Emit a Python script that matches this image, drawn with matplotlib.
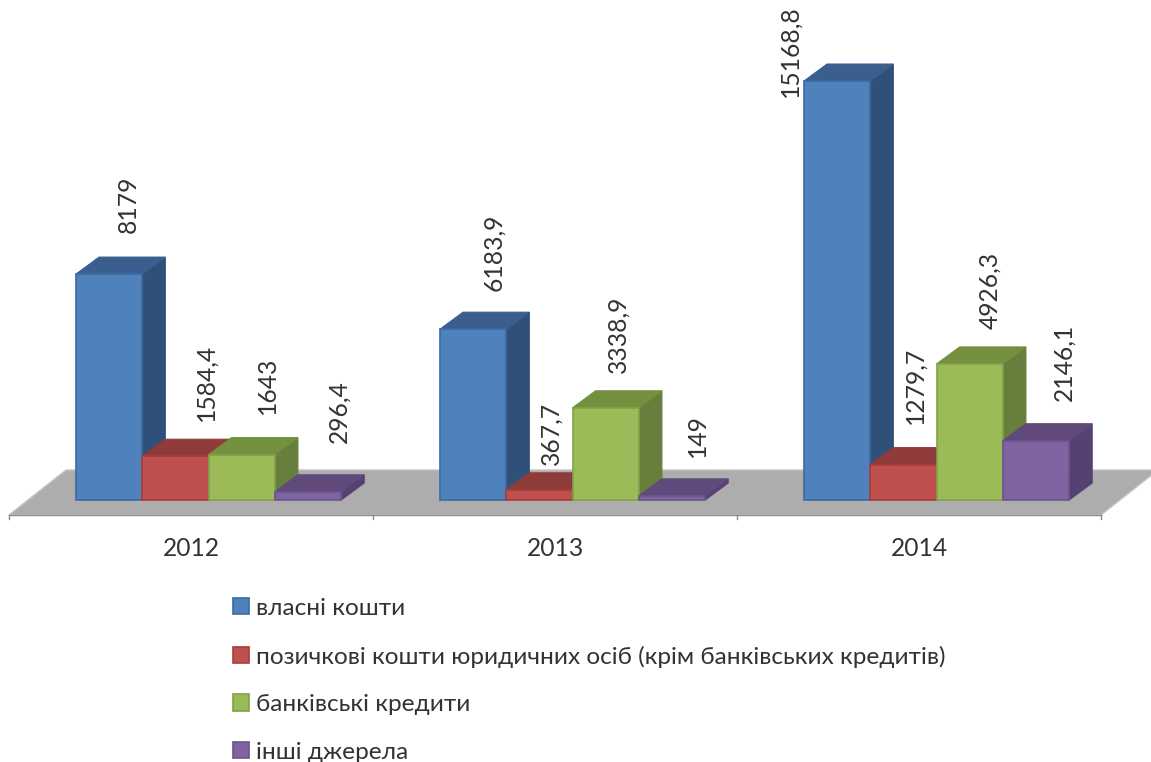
import matplotlib
matplotlib.use('Agg')
import matplotlib.pyplot as plt
from matplotlib.patches import Patch, Polygon


# Data
years = ['2012', '2013', '2014']
own_funds = [8179, 6183.9, 15168.8]
loans = [1584.4, 367.7, 1279.7]
bank_credits = [1643, 3338.9, 4926.3]
other = [296.4, 149, 2146.1]
series_names = ['власні кошти',
                'позичкові кошти юридичних осіб (крім банківських кредитів)',
                'банківські кредити',
                'інші джерела']

# Style
fronts = ['#4f81bd', '#c0504d', '#9bbb59', '#8064a2']
tops = ['#3a5f8e', '#8f3b39', '#73903f', '#5f4a7b']
sides = ['#2f5079', '#8a3836', '#667f3c', '#564272']
edges = ['#3d6a9f', '#a33f3c', '#84a04a', '#6c5489']
text_color = '#333333'

# Layout, in pixels of the 1151x762 picture
W, H = 1151, 762
SCALE = 0.02762     # px per value unit
BASE = 500
TICK0 = 9
STEP = 364
BAR_W = 66.3
GROUP_OFF = 67
DX, DY = 23, 17

# label centre x offset from bar left, label gap above bar front top (px)
label_dx = [[52, 64, 59, 64], [54, 45, 45, 59], [-14, 45, 53, 61]]
label_gap = [[41, 35, 41, 49], [38, 25, 35, 39], [-16, 41, 35, 40]]

plt.rcParams['font.family'] = ['Lato', 'Open Sans', 'DejaVu Sans']

fig = plt.figure(figsize=(W / 100, H / 100), dpi=100)
ax = fig.add_axes([0, 0, 1, 1])
ax.set_xlim(-TICK0 / STEP, (W - TICK0) / STEP)
ax.set_ylim(-(H - BASE) / SCALE, BASE / SCALE)
ax.axis('off')


def ux(px):
    return px / STEP


def uy(px):
    return px / SCALE


# Floor
floor = [(ux(0), uy(-15)), (ux(1092), uy(-15)), (ux(1149), uy(30)), (ux(57), uy(30))]
ax.add_patch(Polygon(floor, closed=True, fc='#adadad', ec='#c4c4c4', lw=1, zorder=1))

# Category axis
ax.plot([0, 3], [uy(-15), uy(-15)], color='#8c8c8c', lw=1, zorder=2)
for i in range(4):
    ax.plot([i, i], [uy(-15), uy(-19)], color='#8c8c8c', lw=1, zorder=2)
for i, year in enumerate(years):
    ax.text(i + 0.5, uy(-48), year, ha='center', va='center',
            fontsize=17.7, color=text_color)

# Bars
series = [own_funds, loans, bank_credits, other]
z = 3
for i in range(len(years)):
    for s, values in enumerate(series):
        v = values[i]
        x0 = i + ux(GROUP_OFF) + s * ux(BAR_W)
        x1 = x0 + ux(BAR_W)
        dx, dy = ux(DX), uy(DY)
        ax.add_patch(Polygon([(x1, 0), (x1 + dx, dy), (x1 + dx, v + dy), (x1, v)],
                             closed=True, fc=sides[s], ec=sides[s], lw=0.8, zorder=z))
        ax.add_patch(Polygon([(x0, v), (x1, v), (x1 + dx, v + dy), (x0 + dx, v + dy)],
                             closed=True, fc=tops[s], ec=tops[s], lw=0.8, zorder=z))
        ax.bar(x0, v, width=ux(BAR_W), bottom=0, align='edge', color=fronts[s],
               edgecolor=edges[s], linewidth=1.2, zorder=z)
        ax.text(x0 + ux(label_dx[i][s]), v + uy(label_gap[i][s]),
                f'{v:g}'.replace('.', ','), rotation=90, ha='center', va='bottom',
                fontsize=17.7, color=text_color, zorder=20)
        z += 1

# Legend
handles = [Patch(fc=fronts[s], ec=edges[s], lw=1.2) for s in range(4)]
ax.legend(handles, series_names, loc='upper left', bbox_to_anchor=(223 / W, 1 - 588 / H),
          frameon=False, fontsize=17.6, labelcolor=text_color, handlelength=0.65,
          handleheight=0.65, handletextpad=0.3, labelspacing=1.09, borderpad=0.4,
          borderaxespad=0)

fig.savefig('out.png', dpi=100, facecolor='white')
